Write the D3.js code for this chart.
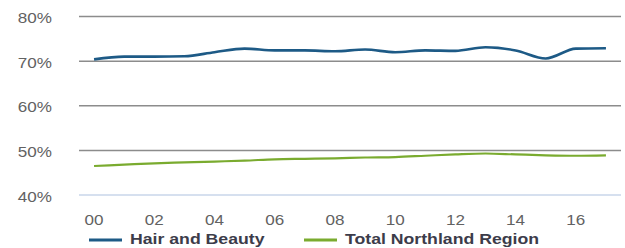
<!DOCTYPE html>
<html><head><meta charset="utf-8">
<script src="https://cdn.jsdelivr.net/npm/d3@7"></script>
<style>
html,body{margin:0;padding:0;background:#fff;}
svg{display:block;}
text{font-family:"Liberation Sans",Arial,sans-serif;}
</style></head>
<body><svg id="chart" width="625" height="248"></svg>
<script>
const years = ["00","01","02","03","04","05","06","07","08","09","10","11","12","13","14","15","16","17"];
const tickLabels = ["00","02","04","06","08","10","12","14","16"];
const hairBeauty = [70.4,71.0,71.0,71.1,72.0,72.8,72.4,72.4,72.2,72.6,72.0,72.4,72.3,73.1,72.4,70.6,72.8,72.9];
const northland = [46.5,46.8,47.1,47.3,47.5,47.7,48.0,48.1,48.2,48.4,48.5,48.8,49.1,49.3,49.1,48.9,48.8,48.9];
const yTicks = [40,50,60,70,80];
const seriesNames = ["Hair and Beauty","Total Northland Region"];
const colors = ["#1d5a86","#7aab2f"];

const svg = d3.select("#chart");
const x = d3.scalePoint().domain(years).range([79,621]).padding(0.5);
const y = d3.scaleLinear().domain([40,80]).range([195,16.5]);

// gridlines
svg.append("g").selectAll("line").data(yTicks).join("line")
  .attr("x1",79).attr("x2",621)
  .attr("y1",d=>y(d)).attr("y2",d=>y(d))
  .attr("stroke",d=>d===40?"#c8d6ea":"#8c8c8c")
  .attr("stroke-width",1.5);

// y labels
svg.append("g").selectAll("g").data(yTicks).join("g")
  .attr("transform",d=>`translate(52,${y(d)+6.5}) scale(1.22,1)`)
  .append("text")
  .attr("text-anchor","end")
  .attr("font-size",14).attr("fill","#626262")
  .text(d=>d+"%");

// x labels
svg.append("g").selectAll("g").data(tickLabels).join("g")
  .attr("transform",d=>`translate(${x(d)},225) scale(1.22,1)`)
  .append("text")
  .attr("text-anchor","middle")
  .attr("font-size",14).attr("fill","#626262")
  .text(d=>d);

const line = d3.line().x((d,i)=>x(years[i])).y(d=>y(d)).curve(d3.curveMonotoneX);
[hairBeauty,northland].forEach((s,k)=>{
  svg.append("path").attr("d",line(s)).attr("fill","none")
    .attr("stroke",colors[k]).attr("stroke-width",k===0?2.6:2.2);
});

// legend
const legX = [89,304];
seriesNames.forEach((n,k)=>{
  svg.append("line").attr("x1",legX[k]).attr("x2",legX[k]+33)
    .attr("y1",240).attr("y2",240).attr("stroke",colors[k]).attr("stroke-width",3);
  svg.append("g").attr("transform",`translate(${legX[k]+41},243.5) scale(1.22,1)`)
    .append("text")
    .attr("font-size",14.5).attr("font-weight","bold").attr("fill","#3c3c4a").text(n);
});
</script></body></html>
